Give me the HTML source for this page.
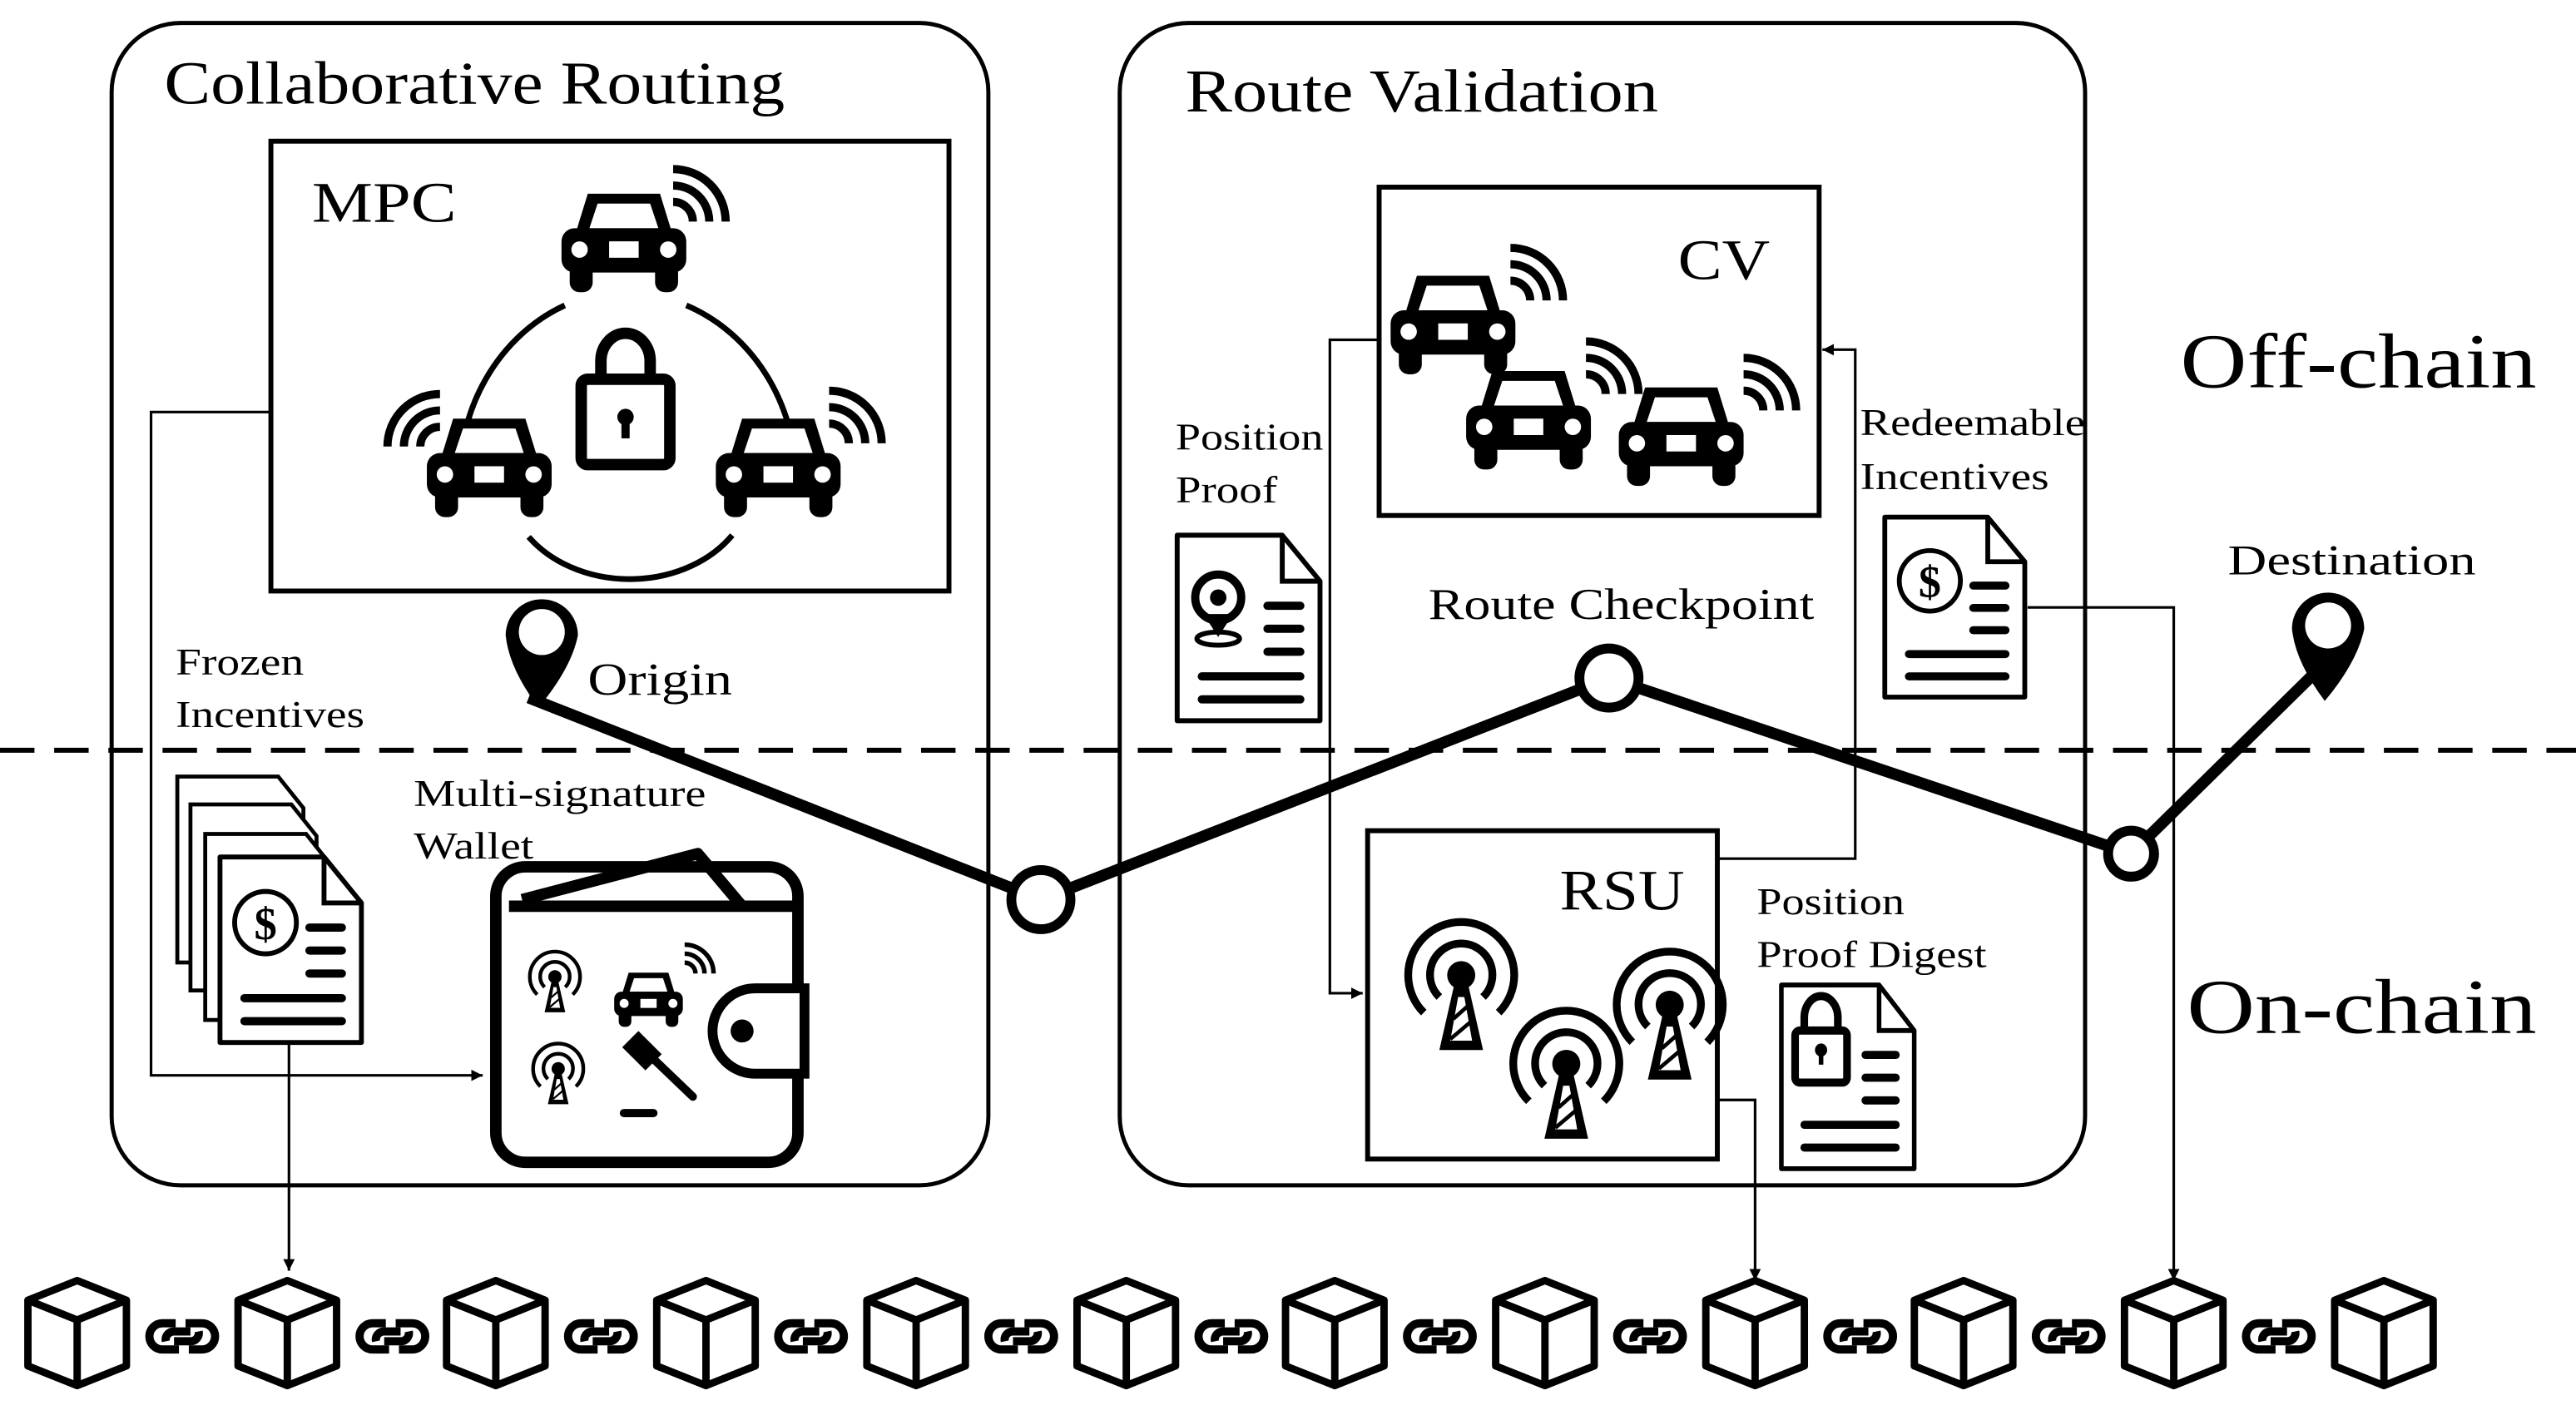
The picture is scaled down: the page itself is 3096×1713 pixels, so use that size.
<!DOCTYPE html>
<html><head><meta charset="utf-8"><style>
html,body{margin:0;padding:0;background:#fff}
svg{display:block}
text{font-family:"Liberation Serif",serif;fill:#000}
</style></head><body>
<svg width="3096" height="1713" viewBox="0 0 1569 868" preserveAspectRatio="none" xmlns="http://www.w3.org/2000/svg">
<defs>
<marker id="ar" viewBox="0 0 10 10" refX="10" refY="5" markerWidth="7" markerHeight="7" orient="auto" markerUnits="userSpaceOnUse"><path d="M0,0 L10,5 L0,10 Z" fill="#000"/></marker>
<g id="car">
 <polygon points="-22,-30 22,-30 30,-4 -30,-4" fill="#000"/>
 <polygon points="-16,-24 16,-24 21,-9 -21,-9" fill="#fff"/>
 <rect x="-38" y="-9" width="76" height="27" rx="8" fill="#000"/>
 <rect x="-33" y="12" width="14" height="18" rx="6" fill="#000"/>
 <rect x="19" y="12" width="14" height="18" rx="6" fill="#000"/>
 <circle cx="-27" cy="4" r="5" fill="#fff"/><circle cx="27" cy="4" r="5" fill="#fff"/>
 <rect x="-9" y="-1" width="18" height="10" fill="#fff"/>
</g>
<g id="wifi" fill="none" stroke="#000" stroke-width="5">
 <path d="M0,-12 A12,12 0 0 1 12,0"/>
 <path d="M0,-22 A22,22 0 0 1 22,0"/>
 <path d="M0,-32 A32,32 0 0 1 32,0"/>
</g>
<g id="tower">
 <circle cx="0" cy="0" r="9" fill="#000"/>
 <polygon points="-4,4 4,4 14,48 -14,48" fill="#000"/>
 <polygon points="-2,14 2,14 7,42 -7,42" fill="#fff"/>
 <path d="M-5,28 L4,20 M-7,41 L6,30" stroke="#000" stroke-width="2.5"/>
 <path d="M-14,14 A20,20 0 1 1 14,14" fill="none" stroke="#000" stroke-width="5"/>
 <path d="M-24,24 A34,34 0 1 1 24,24" fill="none" stroke="#000" stroke-width="5"/>
</g>
<g id="doc">
 <path d="M0,0 H64 L87,28 V113 H0 Z" fill="#fff" stroke="#000" stroke-width="3" stroke-linejoin="round"/>
 <path d="M64,0 V28 H87" fill="none" stroke="#000" stroke-width="3"/>
 <g stroke="#000" stroke-width="5" stroke-linecap="round">
  <line x1="55" y1="43" x2="75" y2="43"/><line x1="55" y1="57" x2="75" y2="57"/><line x1="55" y1="71" x2="75" y2="71"/>
  <line x1="15" y1="86" x2="75" y2="86"/><line x1="15" y1="100" x2="75" y2="100"/>
 </g>
</g>
<g id="dollar">
 <circle cx="0" cy="0" r="19" fill="none" stroke="#000" stroke-width="3"/>
 <text x="0" y="10" font-size="28" text-anchor="middle" font-family="Liberation Sans, sans-serif" font-weight="bold">$</text>
</g>
<g id="cube" fill="#fff" stroke="#000" stroke-width="4.5" stroke-linejoin="round">
 <path d="M0,-32 L30,-20 L30,20 L0,32 L-30,20 L-30,-20 Z"/>
 <path d="M-30,-20 L0,-8 L30,-20 M0,-8 L0,32" fill="none"/>
</g>
<g id="link" fill="none" stroke="#000" stroke-width="5">
 <path d="M-4,-8 H-12 A8,8 0 0 0 -12,8 H-2"/>
 <path d="M4,8 H12 A8,8 0 0 0 12,-8 H2"/>
 <path d="M-10,3 A5,5 0 0 1 -5,-3 H5 M10,-3 A5,5 0 0 1 5,3 H-5"/>
</g>
</defs>

<rect x="68" y="14" width="534" height="708" rx="42" fill="none" stroke="#000" stroke-width="2.5"/>
<rect x="682" y="14" width="588" height="708" rx="42" fill="none" stroke="#000" stroke-width="2.5"/>
<text x="100" y="63" font-size="37" textLength="378" lengthAdjust="spacingAndGlyphs">Collaborative Routing</text>
<text x="722" y="68" font-size="37" textLength="288" lengthAdjust="spacingAndGlyphs">Route Validation</text>

<rect x="165" y="86" width="413" height="274" fill="none" stroke="#000" stroke-width="3"/>
<text x="190" y="135" font-size="35" textLength="88" lengthAdjust="spacingAndGlyphs">MPC</text>
<g fill="none" stroke="#000" stroke-width="3.5">
 <path d="M344,186 A105,115 0 0 0 280,298"/>
 <path d="M418,186 A105,115 0 0 1 485,296"/>
 <path d="M322,327 A75,60 0 0 0 446,326"/>
</g>
<use href="#car" x="380" y="148"/>
<use href="#wifi" x="410" y="135"/>
<use href="#car" x="298" y="285"/>
<g transform="translate(268,272) scale(-1,1)"><use href="#wifi"/></g>
<use href="#car" x="474" y="285"/>
<use href="#wifi" x="505" y="270"/>
<path d="M366,232 V220 A15,17 0 0 1 396,220 V232" fill="none" stroke="#000" stroke-width="7"/>
<rect x="354" y="231" width="54" height="52" rx="4" fill="#fff" stroke="#000" stroke-width="7"/>
<circle cx="381" cy="254" r="5" fill="#000"/><rect x="378.5" y="255" width="5" height="12" fill="#000"/>

<polyline points="165,251 92,251 92,655 294,655" fill="none" stroke="#000" stroke-width="1.6" marker-end="url(#ar)"/>

<text x="107" y="411" font-size="23" textLength="78" lengthAdjust="spacingAndGlyphs">Frozen</text>
<text x="107" y="443" font-size="23" textLength="115" lengthAdjust="spacingAndGlyphs">Incentives</text>

<g transform="translate(108,473) scale(0.96)">
 <path d="M0,0 H64 L80,20 V118 H0 Z" fill="#fff" stroke="#000" stroke-width="2.5"/>
</g>
<g transform="translate(116,490) scale(0.96)">
 <path d="M0,0 H64 L80,20 V118 H0 Z" fill="#fff" stroke="#000" stroke-width="2.5"/>
</g>
<g transform="translate(125,508) scale(0.96)">
 <path d="M0,0 H64 L80,20 V118 H0 Z" fill="#fff" stroke="#000" stroke-width="2.5"/>
</g>
<g transform="translate(134,522) scale(0.99,1)"><use href="#doc"/><use href="#dollar" x="28" y="40"/></g>
<line x1="176" y1="635" x2="176" y2="774" stroke="#000" stroke-width="1.6" marker-end="url(#ar)"/>

<text x="252" y="491" font-size="23" textLength="178" lengthAdjust="spacingAndGlyphs">Multi-signature</text>
<text x="252" y="523" font-size="23" textLength="73" lengthAdjust="spacingAndGlyphs">Wallet</text>

<path d="M318,548 L425,520 L452,552" fill="none" stroke="#000" stroke-width="7" stroke-linejoin="round"/>
<rect x="302" y="528" width="184" height="180" rx="18" fill="none" stroke="#000" stroke-width="7"/>
<line x1="310" y1="552" x2="484" y2="552" stroke="#000" stroke-width="7"/>
<path d="M490,602 H460 A26,26 0 0 0 460,654 H490 Z" fill="#fff" stroke="#000" stroke-width="6"/>
<circle cx="452" cy="628" r="7" fill="#000"/>
<use href="#tower" transform="translate(338,595) scale(0.45)"/>
<use href="#tower" transform="translate(340,651) scale(0.45)"/>
<use href="#car" transform="translate(395,609) scale(0.55)"/>
<use href="#wifi" transform="translate(417,593) scale(0.55)"/>
<g stroke="#000" stroke-linecap="round">
 <line x1="398" y1="645" x2="422" y2="668" stroke-width="5"/>
 <rect x="384" y="630" width="14" height="20" transform="rotate(-45 391 640)" fill="#000" stroke="none"/>
 <line x1="380" y1="678" x2="398" y2="678" stroke-width="5"/>
</g>

<line x1="0" y1="457" x2="1569" y2="457" stroke="#000" stroke-width="3" stroke-dasharray="21,12"/>

<polyline points="322,425 634,548 980,413 1298,520 1418,402" fill="none" stroke="#000" stroke-width="7" stroke-linejoin="round"/>
<circle cx="634" cy="548" r="18" fill="#fff" stroke="#000" stroke-width="6"/>
<circle cx="980" cy="413" r="18" fill="#fff" stroke="#000" stroke-width="6"/>
<circle cx="1298" cy="520" r="14" fill="#fff" stroke="#000" stroke-width="6"/>
<g transform="translate(330,387)">
 <path d="M-22,0 A22,22 0 1 1 22,0 Q18,20 -2,44 Q-20,20 -22,0 Z" fill="#000"/>
 <circle cx="0" cy="-2" r="14" fill="#fff"/>
</g>
<g transform="translate(1418,383)">
 <path d="M-22,0 A22,22 0 1 1 22,0 Q18,20 -2,44 Q-20,20 -22,0 Z" fill="#000"/>
 <circle cx="0" cy="-2" r="14" fill="#fff"/>
</g>
<text x="358" y="423" font-size="28" textLength="88" lengthAdjust="spacingAndGlyphs">Origin</text>
<text x="870" y="377" font-size="27" textLength="235" lengthAdjust="spacingAndGlyphs">Route Checkpoint</text>
<text x="1357" y="350" font-size="26" textLength="151" lengthAdjust="spacingAndGlyphs">Destination</text>
<text x="1328" y="236" font-size="47" textLength="217" lengthAdjust="spacingAndGlyphs">Off-chain</text>
<text x="1332" y="629" font-size="47" textLength="213" lengthAdjust="spacingAndGlyphs">On-chain</text>

<rect x="840" y="114" width="268" height="200" fill="none" stroke="#000" stroke-width="3"/>
<text x="1022" y="170" font-size="35" textLength="56" lengthAdjust="spacingAndGlyphs">CV</text>
<use href="#car" x="885" y="198"/>
<use href="#wifi" x="920" y="183"/>
<use href="#car" x="931" y="256"/>
<use href="#wifi" x="966" y="240"/>
<use href="#car" x="1024" y="266"/>
<use href="#wifi" x="1062" y="250"/>

<text x="716" y="274" font-size="23" textLength="90" lengthAdjust="spacingAndGlyphs">Position</text>
<text x="716" y="306" font-size="23" textLength="62" lengthAdjust="spacingAndGlyphs">Proof</text>
<g transform="translate(717,326)"><use href="#doc"/>
 <circle cx="25" cy="38" r="14" fill="none" stroke="#000" stroke-width="5"/>
 <circle cx="25" cy="38" r="5" fill="#000"/>
 <path d="M16,48 L25,62 L34,48 Z" fill="#000"/>
 <ellipse cx="25" cy="63" rx="13" ry="4" fill="none" stroke="#000" stroke-width="3"/>
</g>

<polyline points="840,207 810,207 810,605 830,605" fill="none" stroke="#000" stroke-width="1.6" marker-end="url(#ar)"/>

<rect x="833" y="506" width="213" height="200" fill="none" stroke="#000" stroke-width="3"/>
<text x="950" y="554" font-size="35" textLength="76" lengthAdjust="spacingAndGlyphs">RSU</text>
<use href="#tower" transform="translate(890,594) scale(0.95)"/>
<use href="#tower" transform="translate(954,648) scale(0.95)"/>
<use href="#tower" transform="translate(1017,612) scale(0.95)"/>

<polyline points="1046,523 1130,523 1130,213 1110,213" fill="none" stroke="#000" stroke-width="1.6" marker-end="url(#ar)"/>

<text x="1133" y="265" font-size="23" textLength="137" lengthAdjust="spacingAndGlyphs">Redeemable</text>
<text x="1133" y="298" font-size="23" textLength="115" lengthAdjust="spacingAndGlyphs">Incentives</text>
<g transform="translate(1148,315) scale(0.98,0.97)"><use href="#doc"/><use href="#dollar" x="28" y="40"/></g>
<polyline points="1235,370 1324,370 1324,780" fill="none" stroke="#000" stroke-width="1.6" marker-end="url(#ar)"/>

<text x="1070" y="557" font-size="23" textLength="90" lengthAdjust="spacingAndGlyphs">Position</text>
<text x="1070" y="589" font-size="23" textLength="140" lengthAdjust="spacingAndGlyphs">Proof Digest</text>
<g transform="translate(1085,600) scale(0.93,0.99)"><use href="#doc"/>
 <path d="M15,28 V20 A10,12 0 0 1 37,20 V28" fill="none" stroke="#000" stroke-width="5"/>
 <rect x="9" y="28" width="34" height="32" rx="3" fill="none" stroke="#000" stroke-width="5"/>
 <circle cx="26" cy="40" r="4" fill="#000"/><rect x="24.5" y="41" width="3" height="8" fill="#000"/>
</g>
<polyline points="1046,670 1069,670 1069,780" fill="none" stroke="#000" stroke-width="1.6" marker-end="url(#ar)"/>

<use href="#cube" x="47" y="812"/><use href="#link" x="111" y="814"/>
<use href="#cube" x="175" y="812"/><use href="#link" x="239" y="814"/>
<use href="#cube" x="302" y="812"/><use href="#link" x="366" y="814"/>
<use href="#cube" x="430" y="812"/><use href="#link" x="494" y="814"/>
<use href="#cube" x="558" y="812"/><use href="#link" x="622" y="814"/>
<use href="#cube" x="686" y="812"/><use href="#link" x="750" y="814"/>
<use href="#cube" x="813" y="812"/><use href="#link" x="877" y="814"/>
<use href="#cube" x="941" y="812"/><use href="#link" x="1005" y="814"/>
<use href="#cube" x="1069" y="812"/><use href="#link" x="1133" y="814"/>
<use href="#cube" x="1196" y="812"/><use href="#link" x="1260" y="814"/>
<use href="#cube" x="1324" y="812"/><use href="#link" x="1388" y="814"/>
<use href="#cube" x="1452" y="812"/>
</svg>
</body></html>
